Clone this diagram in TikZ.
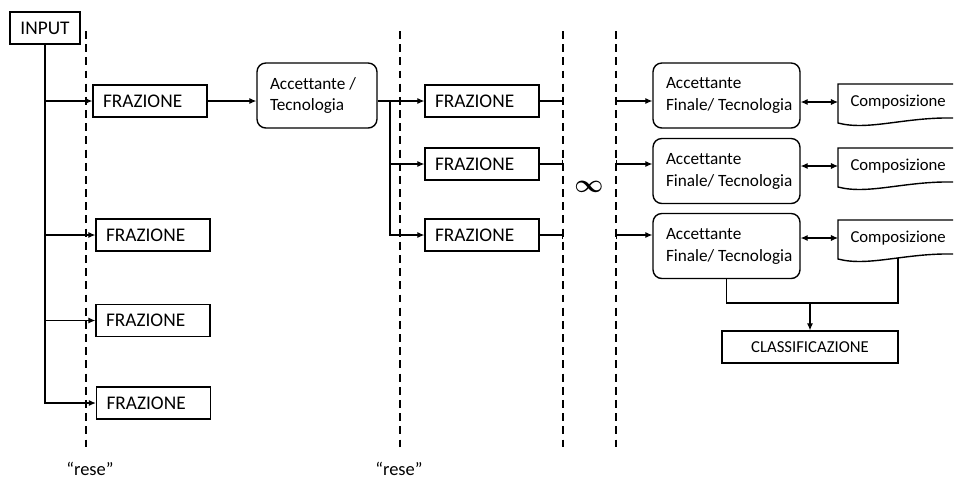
\documentclass[tikz,border=0pt]{standalone}
\usepackage{amsmath}
\usepackage{fontspec}
\setmainfont[Ligatures={TeX,NoCommon}]{Carlito}
\usetikzlibrary{arrows.meta}
\begin{document}
\begin{tikzpicture}[x=0.02cm,y=-0.02cm,line width=0.6pt,
  every node/.style={font=\fontsize{9.8}{12.5}\selectfont},
  caps/.style={font=\fontsize{11}{13}\selectfont},
  frac/.style={draw,caps,line width=0.8pt,minimum height=0.64cm,text width=1.88cm,inner xsep=0.2cm,inner ysep=0pt,align=flush left},
  tech/.style={draw,line width=0.8pt,rounded corners=5pt,minimum height=1.3cm,inner xsep=0.26cm,align=flush left},
  sep/.style={dash pattern=on 4.5pt off 3pt,line width=0.7pt},
  >={Latex[length=4pt,width=3.5pt]}]
\useasboundingbox (0,0) rectangle (954,481);
\node[draw,caps,line width=0.8pt,minimum width=1.4cm,minimum height=0.64cm,inner sep=0pt] (input) at (45,28) {INPUT};
\foreach \x/\n in {86/d1,400/d2,563/d3,616/d4}{
  \coordinate (\n) at (\x,31);
  \draw[sep] (\n) -- (\x,450);
}
\node[frac] (f1) at (150,101) {FRAZIONE};
\node[frac] (f2) at (153,235) {FRAZIONE};
\node[frac] (f3) at (153,320.5) {FRAZIONE};
\node[frac] (f4) at (153.5,403) {FRAZIONE};
\draw[->] (input.south) |- (f4.west);
\foreach \i in {1,2,3} \draw[->] (input.south |- f\i.west) -- (f\i.west);
\node[tech,text width=1.88cm] (acc) at (317,95.5) {\mbox{Accettante /}\\Tecnologia};
\draw[->] (f1.east) -- (acc.west |- f1.east);
\node[frac] (m1) at (482,101) {FRAZIONE};
\node[frac] (m2) at (482,164) {FRAZIONE};
\node[frac] (m3) at (482,235) {FRAZIONE};
\coordinate (split) at (390,101);
\draw[->] (acc.east |- m1.west) -- (m1.west);
\draw[->] (split) |- (m3.west);
\draw[->] (split |- m2.west) -- (m2.west);
\node[font=\Large] (inf) at (589,187) {$\boldsymbol{\infty}$};
\node[tech,text width=2.42cm] (fin1) at (726.5,95.5) {Accettante\\\mbox{Finale/ Tecnologia}};
\node[tech,text width=2.42cm] (fin2) at (726.5,171) {Accettante\\\mbox{Finale/ Tecnologia}};
\node[tech,text width=2.42cm] (fin3) at (726.5,246) {Accettante\\\mbox{Finale/ Tecnologia}};
\foreach \i/\y in {1/84,2/148,3/220}{
  \draw[-{Bar[width=5pt]}] (m\i.east) -- (m\i.east -| d3);
  \draw[{Bar[width=5pt]}->] (m\i.east -| d4) -- (m\i.east -| fin\i.west);
  \draw[line width=0.8pt] (953,\y) -- (838,\y) -- (838,\y+39) .. controls (868,\y+47) and (905,\y+33) .. (953,\y+34);
  \node[anchor=west,inner xsep=0.24cm,font=\fontsize{9.5}{12}\selectfont] (comp\i) at (838,\y+18) {Composizione};
  \draw[<->] (fin\i.east |- comp\i.west) -- (comp\i.west);
}
\node[draw,line width=0.8pt,minimum width=3.52cm,minimum height=0.64cm,inner sep=0pt,font=\fontsize{9.5}{11}\selectfont] (cls) at (810,347) {CLASSIFICAZIONE};
\coordinate (c3) at (898,258);
\coordinate (join) at (810,303);
\draw (fin3.south) |- (join) -| (c3);
\draw[->] (join) -- (cls.north);
\node[font=\fontsize{10.5}{12}\selectfont] (r1) at (90,469) {“rese”};
\node[font=\fontsize{10.5}{12}\selectfont] (r2) at (399,469) {“rese”};
\end{tikzpicture}
\end{document}
